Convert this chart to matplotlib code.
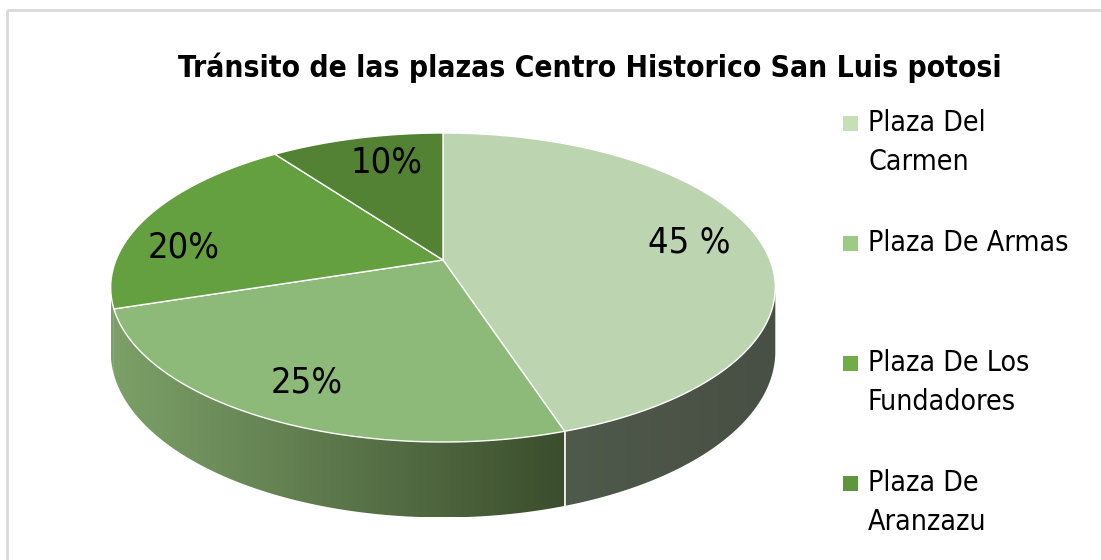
import numpy as np
import matplotlib
matplotlib.use("Agg")
import matplotlib.pyplot as plt
from matplotlib.patches import Polygon, Rectangle
from matplotlib.colors import LinearSegmentedColormap

# data
title = "Tránsito de las plazas Centro Historico San Luis potosi"
labels = ["Plaza Del\nCarmen", "Plaza De Armas", "Plaza De Los\nFundadores", "Plaza De\nAranzazu"]
values = [45, 25, 20, 10]
pct_text = ["45 %", "25%", "20%", "10%"]

# styles
top_colors = ["#BCD5B0", "#8DBA78", "#65A040", "#548235"]
legend_colors = ["#C5E0B4", "#9DCB86", "#70AD47", "#5E963D"]
side_cmaps = [("#4F5A4B", "#484F44"), ("#7CA068", "#3B4D2D"),
              ("#7CA068", "#7CA068"), ("#4F7A33", "#4F7A33")]
lab_shift = [0, 0, -12, 3]
lab_r = [0.78, 0.80, 0.81, 0.76]
FONT = ["DejaVu Sans"]

# pie geometry (pixel space, perspective tilt)
cx, cy = 443, 260
A, S, K, H = 327, 149.6, 0.178, 62


def proj(phi, r=1.0, depth=0.0):
    u = r * np.sin(phi)
    v = r * np.cos(phi)
    w = 1 + K * v
    return cx + A * u / w, cy - S * v / w + depth / w


fig = plt.figure(figsize=(11.01, 5.6), dpi=100)
ax = fig.add_axes([0, 0, 1, 1])
ax.set_xlim(0, 1101)
ax.set_ylim(560, 0)
ax.axis("off")

# chart border
ax.plot([7, 1101], [10, 10], color="#D9D9D9", lw=2, solid_capstyle="butt")
ax.plot([7, 7], [10, 560], color="#D9D9D9", lw=2, solid_capstyle="butt")

fracs = np.array(values) / sum(values)
edges = np.concatenate([[0], np.cumsum(fracs)]) * 2 * np.pi
phi_r = np.arccos(-K)
phi_l = 2 * np.pi - phi_r

# sides
for i in range(len(values)):
    a0 = max(edges[i], phi_r)
    a1 = min(edges[i + 1], phi_l)
    if a1 <= a0:
        continue
    t = np.linspace(a0, a1, 100)
    xt, yt = proj(t)
    xb, yb = proj(t[::-1], depth=H)
    pts = np.column_stack([np.concatenate([xt, xb]), np.concatenate([yt, yb])])
    poly = Polygon(pts, closed=True, facecolor="none", edgecolor="none")
    ax.add_patch(poly)
    cmap = LinearSegmentedColormap.from_list("s%d" % i, side_cmaps[i])
    grad = np.linspace(0, 1, 256)[None, :]
    im = ax.imshow(grad, cmap=cmap, aspect="auto",
                   extent=(pts[:, 0].min(), pts[:, 0].max(), pts[:, 1].max(), pts[:, 1].min()),
                   zorder=1)
    im.set_clip_path(poly)
    # white seam between side faces
    if phi_r < edges[i + 1] < phi_l and i == 0:
        x0, y0 = proj(edges[i + 1])
        x1, y1 = proj(edges[i + 1], depth=H)
        ax.plot([x0, x1], [y0, y1], color="white", lw=1.2, zorder=2)

ax.set_xlim(0, 1101)
ax.set_ylim(560, 0)

# tops
for i in range(len(values)):
    t = np.linspace(edges[i], edges[i + 1], 200)
    xt, yt = proj(t)
    x0, y0 = proj(0, r=0)
    pts = np.column_stack([np.concatenate([[x0], xt]), np.concatenate([[y0], yt])])
    ax.add_patch(Polygon(pts, closed=True, facecolor=top_colors[i],
                         edgecolor="white", lw=1.0, zorder=3))

# value labels
for i in range(len(values)):
    mid = (edges[i] + edges[i + 1]) / 2 + np.deg2rad(lab_shift[i])
    lx, ly = proj(mid, r=lab_r[i])
    ax.text(lx, ly, pct_text[i], fontsize=26, ha="center", va="center",
            family=FONT, fontstretch="condensed", color="black", zorder=5)

# title
ax.text(590, 68, title, fontsize=21.5, fontweight="bold", ha="center", va="center",
        family=FONT, fontstretch="condensed", color="black")

# legend
for i, lab in enumerate(labels):
    y0 = 123 + i * 120
    ax.add_patch(Rectangle((843, y0 - 7.5), 15, 15, facecolor=legend_colors[i],
                           edgecolor="none"))
    for j, line in enumerate(lab.split("\n")):
        ax.text(868, y0 + j * 39, line, fontsize=20.4, ha="left", va="center",
                family=FONT, fontstretch="condensed", color="black")

fig.savefig("out.png", dpi=100)
